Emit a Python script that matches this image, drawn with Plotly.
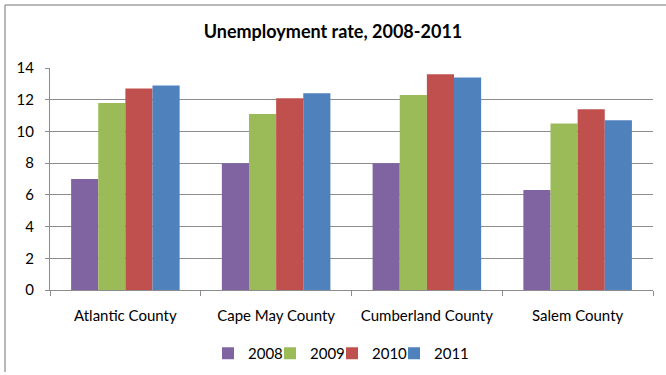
import plotly.graph_objects as go

categories = ["Atlantic County", "Cape May County", "Cumberland County", "Salem County"]
years = ["2008", "2009", "2010", "2011"]
values_2008 = [7.0, 8.0, 8.0, 6.3]
values_2009 = [11.8, 11.1, 12.3, 10.5]
values_2010 = [12.7, 12.1, 13.6, 11.4]
values_2011 = [12.9, 12.4, 13.4, 10.7]
series = [values_2008, values_2009, values_2010, values_2011]
colors = ["#8064A2", "#9BBB59", "#C0504D", "#4F81BD"]
y_ticks = [0, 2, 4, 6, 8, 10, 12, 14]

W, H = 666, 375
L, R, T, B = 50, 13, 68, 85
pw, ph = W - L - R, H - T - B

fig = go.Figure()
for yr, vals, c in zip(years, series, colors):
    fig.add_trace(go.Bar(name=yr, x=categories, y=vals, marker=dict(color=c, line=dict(width=0))))
# empty legend spacer so the last legend label is not clipped
fig.add_trace(go.Scatter(name=" ", x=[None], y=[None], mode="markers",
                         marker=dict(color="rgba(0,0,0,0)"), hoverinfo="skip"))

font = "Lato, 'Open Sans', sans-serif"
grid = "#8c8c8c"
fig.update_layout(
    width=W, height=H,
    margin=dict(l=L, r=R, t=T, b=B, autoexpand=False),
    paper_bgcolor="white", plot_bgcolor="white",
    barmode="group", bargap=0.28, bargroupgap=0,
    font=dict(family=font, size=15, color="#000"),
    title=dict(text="<b>Unemployment rate, 2008-2011</b>", x=0.5, xanchor="center",
               y=1 - 32 / H, yanchor="middle", yref="container",
               font=dict(family=font, size=18, color="#000")),
    showlegend=True,
    legend=dict(orientation="h", x=(208 - L) / pw, xanchor="left", y=-47 / ph, yanchor="top",
                font=dict(family=font, size=15), traceorder="normal",
                entrywidth=17, entrywidthmode="pixels", itemwidth=30),
    xaxis=dict(showline=True, linecolor=grid, linewidth=1, ticks="outside", automargin=False,
               tickson="boundaries", ticklen=5, tickcolor=grid, showgrid=False,
               ticklabelstandoff=12, tickfont=dict(family=font, size=15)),
    yaxis=dict(range=[0, 14], tickvals=y_ticks, showgrid=True, gridcolor=grid, gridwidth=1,
               showline=True, linecolor=grid, linewidth=1, ticks="outside", ticklen=4,
               tickcolor=grid, zeroline=False, ticklabelstandoff=8, automargin=False,
               tickfont=dict(family=font, size=15)),
    shapes=[
        dict(type="line", xref="paper", yref="paper", x0=(5 - L) / pw, x1=(W + 5 - L) / pw,
             y0=(H - B - 5) / ph, y1=(H - B - 5) / ph, line=dict(color="#a0a0a0", width=1.5)),
        dict(type="line", xref="paper", yref="paper", x0=(5 - L) / pw, x1=(5 - L) / pw,
             y0=(H - B - 5) / ph, y1=(H - B - 372) / ph, line=dict(color="#a0a0a0", width=1.5)),
    ],
)

fig.write_html("out.html", config={"displayModeBar": False},
               post_script="document.body.style.margin='0';")
